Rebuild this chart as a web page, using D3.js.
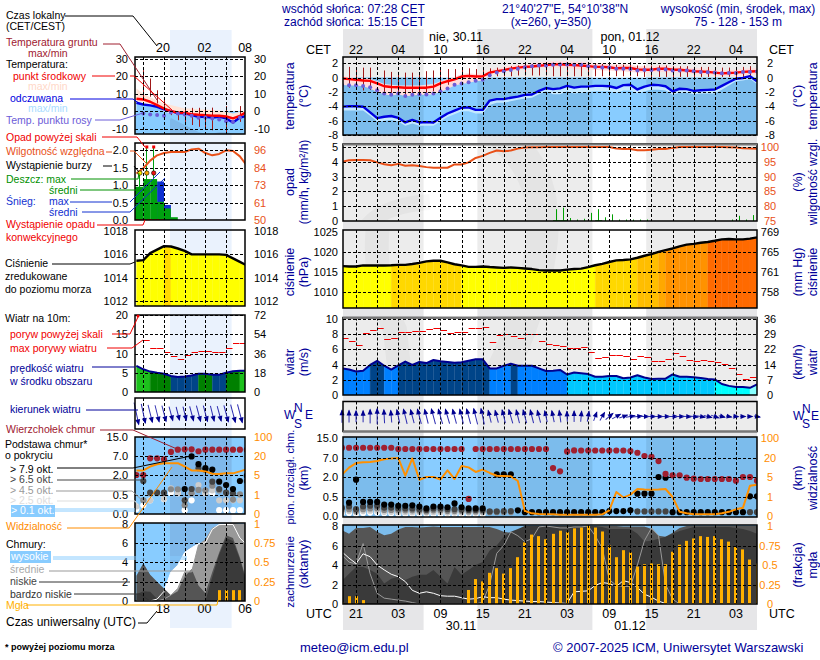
<!DOCTYPE html>
<html>
<head>
<meta charset="utf-8">
<script src="https://cdn.jsdelivr.net/npm/d3@7/dist/d3.min.js"></script>
<style>
  body { margin: 0; background: #fff; }
  text { font-family: "Liberation Sans", Arial, sans-serif; font-size: 12px; }
</style>
</head>
<body>
<div id="chart"></div>
<script>
/*
----------------------------------------
Main forecast data, one value per hour, starting 19 UTC
----------------------------------------
*/
const tempMid = [-0.1,-0.2,-0.3,-0.4,-0.45,-0.8,-1.2,-1.3,-1.35,-1.4,-1.4,-1.4,-1.4,-1.25,-0.8,-0.5,-0.25,0.15,0.25,0.15,0.2,0.7,0.9,1.05,1.25,1.4,1.5,1.55,1.65,1.75,1.85,1.85,1.8,1.75,1.7,1.6,1.5,1.5,1.45,1.3,1.35,1.35,1.15,1.1,1.1,1.25,1.25,1.1,1.1,1.0,0.9,0.85,0.8,0.7,0.6,0.65,0.7,0.8,0.85,0.9];
const tempMax = [0.2,0.1,0,-0.1,-0.2,-0.5,-0.9,-1,-1.1,-1.1,-1.1,-1.1,-1,-0.9,-0.5,-0.2,0.1,0.5,0.6,0.5,0.6,1.1,1.3,1.5,1.7,1.8,1.9,2,2.1,2.2,2.3,2.3,2.3,2.2,2.2,2.1,2,2,1.9,1.8,1.9,1.8,1.6,1.6,1.5,1.7,1.7,1.5,1.5,1.4,1.3,1.3,1.2,1.1,1,1.1,1.1,1.2,1.3,1.3];
const tempMin = [-1,-1.1,-1.1,-1.2,-1.5,-2,-2.3,-2.5,-2.3,-2.6,-2.5,-2.4,-2.4,-2.3,-2,-1.6,-1.1,-0.9,-0.7,-0.5,-0.4,0.3,0.6,0.8,1,1.1,1.2,1.3,1.4,1.4,1.4,1.4,1.3,1.2,1.2,1.1,1.1,1,1,0.9,0.9,0.8,0.7,0.7,0.7,0.8,0.8,0.7,0.7,0.6,0.5,0.4,0.4,0.3,0.2,0.2,0.2,0.3,0.4,0.4];
const feels = [-4.05,-4,-4,-4.05,-4.85,-5.65,-5.45,-5.35,-5.6,-6.25,-5.9,-6.25,-6.2,-6.25,-5.6,-5,-4.6,-4.2,-4.15,-4.5,-4.5,-3.2,-3,-3,-2.8,-2.65,-2.4,-2.35,-1.85,-1.45,-1.6,-1.5,-1.15,-1.4,-1.25,-1.25,-1.15,-1.15,-1.2,-1.45,-1.05,-1,-1.65,-1.25,-1,-1.05,-1.2,-1.9,-1.55,-1.6,-1.85,-1.75,-1.7,-1.65,-1.15,-0.65,-0.15,-0.05,0.2,-0.5];
const feelsMin = [-4.6,-4.6,-4.6,-4.6,-5.3,-6.1,-6,-5.9,-6.1,-6.7,-6.4,-6.7,-6.7,-6.7,-6.1,-5.5,-5.1,-4.7,-4.7,-5,-5,-3.8,-3.5,-3.5,-3.3,-3.1,-2.9,-2.8,-2.3,-1.9,-2.3,-2.3,-1.9,-2.2,-2.1,-2,-1.9,-1.9,-1.9,-2.1,-1.8,-1.8,-2.2,-1.9,-1.7,-1.7,-1.8,-2.4,-2.1,-2.1,-2.3,-2.2,-2.2,-2.2,-1.7,-1.1,-0.5,-0.4,-0.2,-0.9];
const dewPoint = [-1.05,-1.05,-1.05,-1.15,-1.35,-1.75,-2.2,-2.4,-2.2,-2.55,-2.4,-2.3,-2.35,-2.2,-1.9,-1.5,-1,-0.8,-0.65,-0.45,-0.3,0.35,0.7,0.9,1.05,1.25,1.45,1.6,1.7,1.7,1.8,1.85,1.85,1.8,1.8,1.6,1.5,1.4,1.4,1.25,1.25,1.2,1,1.05,1.05,1.15,1.15,1,1,1,0.9,0.8,0.75,0.7,0.6,0.65,0.65,0.8,0.8,0.85];
const groundMax = [null,1.5,1.4,1.4,1.4,null,1,0.8,0.8,0.7,0.7,0.7,0.9,1,1.1,1.2,1.2,1.3,1.3,1.2,1.2,1.3,1.4,1.5,1.6,1.7,1.8,1.9,2,2,2.1,2.1,2.1,2,2,2,1.9,1.9,1.8,1.8,1.8,1.8,1.7,1.7,1.7,1.7,1.7,1.6,1.6,1.6,1.5,1.5,1.5,1.4,1.4,1.4,1.5,1.5,1.6,1.5];
const groundMin = [null,-1.4,-1.7,-1.8,-1.7,null,-2.4,-2.4,-2.4,-2.4,-2.4,-2.4,-2.4,-1.9,-1.3,-1,-0.3,0,0,0,0,0.1,0.2,0.2,0.2,0.3,0.3,0.3,0.3,0.3,0.2,0.2,0.2,0.2,0.2,0.2,0.2,0.2,0.2,0.2,0.2,0.2,0.2,0.1,0.1,0.1,0.1,0.1,0.1,0.1,0.1,0.1,0.1,0.1,0.1,0.1,0.1,0.1,0.1,0.1];

const relHum = [95,95.55,95.65,95.65,95.55,94.8,94.2,93.8,94.3,93.65,93.8,93.55,93.2,93,93,93,94.1,94.1,94.8,96.3,97,98,98.8,98.55,98.8,99.45,99.8,99.9,99.9,100,100,100,100,100,100,100,100,100,100,99.5,99.3,99.3,98.9,98.9,99.1,99.3,99.3,99.7,100,100,100,100,100,100,100,99.9,99.8,99.6,99.5,99.4];
const rainMax = [0,0,0,0,0,0,0,0,0,0,0,0,0,0,0,0,0,0,0,0,0,0,0,0,0,0,0,0,0,0,0.8,0.9,0.2,0.1,0.15,0.55,0.8,0.25,0.45,0.1,0.1,0.1,0.1,0.1,0,0,0,0,0,0,0,0,0,0,0,0.1,0.35,0.1,0.4,0];
const rainMean = [0,0,0,0,0,0,0,0,0,0,0,0,0,0,0,0,0,0,0,0,0,0,0,0,0,0,0,0,0,0,0.05,0.05,0,0,0,0,0.05,0,0,0,0,0,0,0,0,0,0,0,0,0,0,0,0,0,0,0,0,0,0,0];

const pressure = [1016.5,1016.4,1016.4,1016.65,1016.65,1016.65,1016.65,1016.7,1016.8,1016.8,1017,1017.3,1017.65,1017.8,1017.8,1017.4,1016.95,1016.65,1016.3,1016.3,1016.4,1016.25,1016.15,1016.05,1016.15,1016.05,1015.9,1015.75,1015.5,1015.4,1015.4,1015.4,1015.6,1015.75,1015.85,1016.25,1016.7,1017.05,1017.5,1017.9,1018,1018.15,1018.55,1019.05,1019.45,1020,1020.45,1020.85,1021.35,1021.8,1022,1022.25,1022.45,1022.75,1023.1,1023.2,1023.1,1023.1,1023.3,1023.6];

const windSpeed = [3.5,3.35,3.1,3.2,3.95,4.5,3.85,3.35,3.9,4.4,3.95,4.35,4.2,4.6,4.45,4.35,4.25,4.3,4.5,4.7,4.7,3.5,3.5,3.85,4.1,3.85,3.85,3.85,3.5,3.15,3.2,3.3,2.7,2.95,2.85,2.75,2.4,2.4,2.5,2.5,2.2,2.3,2.6,2.3,2.1,2.15,2.15,2.7,2.4,2.4,2.35,2.25,2.1,2.05,1.45,1.2,1.05,1.05,0.95,1.4];
const windGust = [7.5,7.1,6.55,8.15,8.5,8.8,7.35,7.5,8.25,8.25,8.4,8.4,8.7,8.8,8.55,8.15,8.25,8.3,8.8,8.8,8.95,6.95,7.95,8.05,7.75,7.45,8,8,7.1,6.7,6.6,6.45,6.15,6.15,6.3,5.7,4.85,5.05,5.25,5.25,5.1,4.7,5.1,5,4.45,4.45,4.75,5.5,5.1,4.6,4.45,4.55,4.45,4.3,4.05,3.5,2.75,2.05,2.35,2.55];
const windDir = [0,0,0,0,0,0,-3,-5,-12,-14,-15,-15,-14,-15,-16,-16,-15,-14,-15,-14,-12,-14,-15,-14,-16,-14,-15,-14,-15,-13,-12,-8,-3,0,5,10,20,30,50,60,70,80,85,90,90,90,90,90,90,92,95,100,105,110,105,100,95,90,90,100];

const cloudTop = [11.1,11.1,11.1,11.1,11.1,11.1,11.1,11.1,10.6,10.6,10.6,10.6,10.6,10.6,10.6,10.6,10.6,10.6,0.45,10.6,10.6,10.6,10.6,10.6,10.6,10.6,10.6,10.6,10.6,10.6,4.35,3.5,9.65,10.05,10,10,10,10,10,10,10,9.8,9.1,7.8,7.5,6.2,2.8,2.45,2.45,1.95,1.875,1.85,1.85,1.85,1.85,1.85,1.725,2,2,1.725];
const base79 = [null,0.35,1.8,0.37,0.37,0.37,0.3,0.3,0.27,0.27,0.28,0.25,0.2,0.25,0.25,0.23,0.33,0.23,0.2,0.2,0.2,null,2.7,2.7,2.7,0.15,0.1,0.1,0.1,0.1,0.1,0.1,0.1,0.1,0.1,0.1,0.1,0.1,0.13,0.13,0.13,0.15,0.75,0.75,0.75,2,1.95,0.1,0.1,0.1,0.1,0.1,0.1,0.1,0.1,0.1,0.1,0.1,0.55,0.55];
const base65 = [0.22,0.25,0.18,0.25,0.27,0.27,0.22,0.22,0.2,0.2,0.2,0.18,0.16,0.2,0.2,0.18,0.18,0.17,0.16,0.16,0.16,0.12,0.12,0.13,0.13,null,null,null,null,null,null,null,null,null,null,null,null,null,null,null,null,null,0.12,0.12,0.12,0.12,0.12,null,null,null,null,null,null,null,null,null,null,null,0.1,0.1];
const base45 = [0.17,0.18,0.13,0.18,0.2,0.2,0.16,0.16,0.15,0.15,0.15,0.14,0.12,0.15,0.15,0.13,0.13,0.13,0.12,0.12,0.12,0.1,0.1,0.1,0.1,null,null,null,null,null,null,null,null,null,null,null,null,null,null,null,null,null,null,null,null,null,null,null,null,null,null,null,null,null,null,null,null,null,null,null];
const base25 = [0.12,0.13,0.1,0.13,0.14,0.14,0.11,0.11,0.1,0.1,0.1,0.1,0.09,0.1,0.1,0.09,0.09,0.09,0.09,0.09,0.09,null,null,null,null,null,null,null,null,null,null,null,null,null,null,null,null,null,null,null,null,null,null,null,null,null,null,null,null,null,null,null,null,null,null,null,null,null,null,null];
const base01 = [0.07,0.08,0.06,0.08,0.09,0.09,0.07,0.07,0.06,0.06,0.06,0.06,0.05,0.06,0.06,0.05,0.05,0.05,0.05,0.05,0.05,null,null,null,null,null,null,null,null,null,null,null,null,null,null,null,null,null,null,null,null,null,null,null,null,null,null,null,null,null,null,null,null,null,null,null,null,null,null,null];
const visibility = [6.85,12.4,16,16.6,16.8,17.6,19,19.7,20,6,19.7,4.45,5,5,4.5,10.3,4.6,13.7,12.6,9,10.8,8.2,6,5.8,5.5,4.2,0.26,0.14,0.1,0.09,0.09,0.07,0.07,0.07,0.07,0.07,0.07,0.09,0.3,2,0.97,1.47,2.6,2.5,2.45,2.5,2.6,1,0.22,0.14,0.09,0.09,0.09,0.09,0.14,0.22,0.35,0.43,3.25,3.45];

const cloudHigh = [5.35,4.7,4.15,5.15,4.85,4,3.5,3.05,2.8,2.3,1.4,1.1,1.25,1.1,0.85,0.8,0.8,0.65,0.5,0.55,0.75,0.65,0.65,0.5,0.4,0.35,0.3,0.25,0.25,0.2,0.15,0.1,0.05,1.25,1.3,1.35,1.9,2.2,2.1,1.8,2.4,2.2,1.7,1,0.7,0.3,0.05,0,0,0,0,0,0,0,0,0,0,0,0,0];
const cloudMid = [5,4.3,4.1,6.2,3.1,1.1,0.6,0.5,0.4,0.3,0.15,0,0,0,0,0,0,0,0,0,0.2,2,5.2,6,7.4,7,6.4,6.7,7.9,8,7.9,7.8,7.8,7.9,7.9,8,7,5.7,2.5,1.9,1.8,1.8,4,6.5,7.8,7,2,0.5,0,0,0,0,0,0,0,0,0,0,0,0];
const cloudLow = [7.55,7.2,7.8,7.8,7.9,7.4,7.05,7.2,7.65,7.9,7.9,7.85,7.9,7.95,7.9,7.9,7.9,7.9,7.9,7.9,7.9,7.9,7.7,7.4,7.3,7.6,8,8,8,8,8,8,8,8,8,8,8,8,8,8,7.95,7.95,7.95,7.95,7.7,7,6.9,7.3,7.8,8,8,8,8,8,8,8,8,8,8,8];
const cloudVeryLow = [2.4,3.1,3.8,3.8,3.5,3.1,2.1,2.6,2.8,2.45,2.8,3,3,3.5,2.8,2.1,3.8,3,3.5,4,4.3,5.5,6,6.9,7.4,7.7,8,8,8,8,8,8,8,8,8,8,8,7.9,7.7,7.7,7.7,7.7,7.2,6.4,6.5,6.7,6.9,7.2,7.5,7.7,7.9,7.9,7.9,7.9,7.9,7.9,7.8,7.7,7.5,7.2];
const fog = [0.02,0.1,0.1,0.05,0,0,0,0,0,0,0,0,0,0,0,0,0,0,0.18,0.32,0.29,0.4,0.46,0.39,0.46,0.6,0.79,0.89,0.87,0.83,0.9,0.94,0.92,0.97,0.98,1,0.98,0.93,0.75,0.6,0.69,0.66,0.48,0.51,0.52,0.51,0.51,0.67,0.76,0.81,0.84,0.87,0.86,0.87,0.83,0.8,0.73,0.7,0.57,0.52];

/*
----------------------------------------
Climatology side column data, one value per hour, starting 14 UTC
----------------------------------------
*/
const lTempMid = [7.1,6.7,5.4,3.5,1.5,0,-0.8,-1,-1.7,-2.1,-2.3,-2.7,-2.7,-3.1,-4.2,-2.7,-0.4];
const lTempMax = [13,10,8,6.3,4.4,3.5,2.5,1.5,1.5,1,1,0.6,0.2,-0.4,-1.3,-0.4,0.5];
const lTempMin = [5.6,5.2,4,2,0,-1.5,-2,-2.3,-3,-3.5,-3.6,-4,-4,-4.5,-5.5,-4,-2];
const lFeels = [4.8,3.8,3.3,2.5,1,0,-1.3,-1.3,-2.3,-3.3,-3.3,-3.7,-3.3,-4.2,-6.5,-3.7,-2.7];
const lFeelsMin = [-14,-14,-14,-14,-14,-4,-6,-8,-10,-12,-13,-13,-12,-12,-13,-10,-9];
const lDewPoint = [null,-1.3,-1.9,-2.3,-2.7,-0.8,-1.3,-1.9,-2.7,-3.8,-3.7,-4.2,-4.8,-5.8,-6.2,-3.7,null];
const lGroundMax = [null,23.6,18.8,12,7.3,0.5,0,1.5,1.9,1.9,2,2,null,2.9,null,2.9,null];
const lGroundMin = [null,6.3,8.3,4.4,0.5,-2.3,-5.2,-6.2,-8,-9,-10,-11,null,-12.9,null,-6.2,null];

const lRelHum = [80.6,84,89,92.5,94,94.7,94.7,94.7,96.4,96.9,94,92.5,93.4,95.8,95.3,91.8,85.9];
const lRainBar = [0.95,1.17,1.17,0.52,0.33,0.08,0,0,0,0,0,0,0,0,0,0,0];
const lSnowBar = [0,0,0,1.1,0.43,0,0,0,0,0,0,0,0,0,0,0,0];
const lRainStem = [1.35,2.1,2.1,0,0,0,0,0,0,0,0,0,0,0,0,0,0];
const lOverScale = [0,1,1,0,0,0,0,0,0,0,0,0,0,0,0,0,0];
const lStorm = ['#ffee00','#ffaa00','#ee1111'];
const lConvective = [1,1,1,1,0,0,0,0,0,0,0,0,0,0,0,0,0];

const lPressure = [1015.45,1015.5,1016.1,1016.4,1016.7,1016.67,1016.5,1016.3,1016,1016,1016,1016,1016,1015.95,1015.65,1015.35,1015.05];
const lWindSpeed = [6.8,5.9,5.3,5,4.75,4.15,3.9,4,4.3,4.75,4.75,4.5,4.5,5,5.4,5.55,5.55];
const lWindGust = [null,13.4,11.45,11.4,10.3,9.3,8.55,9.6,10.3,10.6,10.65,10.3,10.3,11.45,12.6,12.8,null];
const lWindDir = [168,168,166,166,165,165,166,166,165,165,165,166,165,165,165,165,165];

const lCloudTop = [2,2,6.4,6.4,6.15,8.7,9.65,9.8,9.8,9,9.65,9.65,9.65,9.65,9.65,9.65,9.65];
const lBase79 = [null,null,null,null,null,null,null,0.95,6.9,4.85,3.8,3.4,1.5,1.25,0.95,1.55,1.95];
const lBase65 = [null,1.55,0.68,0.68,0.68,null,null,0.36,0.95,3.8,3.4,1.5,0.95,0.68,0.63,null,1.55];
const lBase45 = [null,0.36,0.63,0.63,0.63,0.93,0.93,0.23,0.63,0.88,0.85,1.2,0.85,0.63,0.38,0.55,null];
const lBase25 = [0.2,null,0.36,null,0.4,1,0.63,0.36,0.63,1.25,0.63,0.85,0.36,0.36,0.36,0.36,null];
const lBase01 = [0.13,0.23,0.36,null,0.39,0.65,0.63,0.1,0.36,null,0.65,0.63,0.1,0.1,0.1,0.1,null];
const lVisibility = [8.6,8.6,11.7,13.5,14.3,14.3,14.3,11.7,8.6,8.6,7.85,6,5.8,6.3,6.3,7.85,9.65];

const lCloudHigh = [0,0,0,0.2,1,3,3.7,5,5.5,5.9,6,7.4,7.9,7.9,7.9,6.5,5.8];
const lCloudMid = [0,0,0,0,0.2,0.6,1.3,3,3,5.8,6.3,7.5,7.8,8,8,7.9,7.9];
const lCloudLow = [2.6,3.9,2.7,2,1.3,0.6,1,2.5,3.3,1.6,0.8,3,5,6.8,6.5,4.5,2];
const lCloudVeryLow = [0.7,1,0.95,0.2,0,0,0,0,0,0,0,2.5,4.8,6.5,6.2,4.3,1.8];
const lFog = [0,0,0,0,0,0,0,0,0,0,0,0,0.14,0.14,0.14,0.14,0];

/*
----------------------------------------
Tick labels and night spans
----------------------------------------
*/
const mainGridHours = [2,5,8,11,14,17,20,23,26,29,32,35,38,41,44,47,50,53,56];
const mainLabelHours = [2,8,14,20,26,32,38,44,50,56];
const localLabels = ['22','04','10','16','22','04','10','16','22','04'];
const utcLabels = ['21','03','09','15','21','03','09','15','21','03'];
const sideGridHours = [1,4,7,10,13];
const sideLabelHours = [4,10,15.9];
const sideLocalLabels = ['20','02','08'];
const sideUtcLabels = ['18','00','06'];
const mainNight = [[0,11.6],[19.25,35.6],[43.25,59]];
const sideNight = [[4.87,13.8]];

const windColor = d3.scaleThreshold()
  .domain([1,2.07,3,3.9,4.72,5.5])
  .range(['#88ffff','#00ffff','#00c8ff','#0080ff','#004488','#008000','#1cc01c']);
const pressureColor = d3.scaleThreshold()
  .domain([1016.68,1018.2,1019.9,1020.3,1022.35])
  .range(['#ffff00','#ffd800','#ffbe00','#ffa800','#ff9200','#ff6a00']);

const NAVY = '#000099';
const ORANGE = '#ff8c00';
const RH_RED = '#e85018';

const svg = d3.select('#chart').append('svg').attr('width', 820).attr('height', 660);

const xMain = d3.scaleLinear().domain([0,59]).range([342,757]);
const xSide = d3.scaleLinear().domain([0,16]).range([136.4,246.8]);

const mainCol = { x: xMain, x0: 343, x1: 757, night: mainNight, grid: mainGridHours, pre: 'm' };
const sideCol = { x: xSide, x0: 135, x1: 245, night: sideNight, grid: sideGridHours, pre: 's' };

// snap thin marks to the pixel grid so they stay sharp
const crisp = v => Math.round(v) + 0.5;

/*
----------------------------------------
Page bands behind the panels
----------------------------------------
*/
mainNight.forEach(([a,b]) => {
  svg.append('rect').attr('x', Math.max(343, xMain(a))).attr('y', 29)
    .attr('width', xMain(b) - Math.max(343, xMain(a))).attr('height', 601).attr('fill', '#e6e6e8');
});
sideNight.forEach(([a,b]) => {
  svg.append('rect').attr('x', xSide(a)).attr('y', 30)
    .attr('width', xSide(b) - xSide(a)).attr('height', 598).attr('fill', '#eaf2fd');
});

/*
----------------------------------------
Panel helpers
----------------------------------------
*/
const panel = (col, name, top, bottom) => {
  const id = col.pre + name;
  svg.append('clipPath').attr('id', id).append('rect')
    .attr('x', col.x0).attr('y', top).attr('width', col.x1 - col.x0).attr('height', bottom - top);
  const g = svg.append('g').attr('clip-path', `url(#${id})`);
  return { col, g, top, bottom };
};

const shade = (p, dayColor, nightColor, top = p.top) => {
  p.g.append('rect').attr('x', p.col.x0).attr('y', top)
    .attr('width', p.col.x1 - p.col.x0).attr('height', p.bottom - top).attr('fill', dayColor);
  p.col.night.forEach(([a,b]) => {
    p.g.append('rect').attr('x', p.col.x(a)).attr('y', top)
      .attr('width', p.col.x(b) - p.col.x(a)).attr('height', p.bottom - top).attr('fill', nightColor);
  });
};

const paper = (p) => {
  if (p.col.pre === 'm') shade(p, '#ffffff', '#ececec');
  else shade(p, '#ffffff', '#eaf2fd');
};

const sky = (p, top = p.top) => {
  if (p.col.pre === 'm') shade(p, '#88ccff', '#7cbcec', top);
  else shade(p, '#88ccff', '#7fb8ea', top);
};

// faint swirl of the ICM logo, only seen through the main panels
const watermark = (p) => {
  const swirl = p.g.append('g').attr('fill', 'none').attr('stroke', '#000').attr('stroke-opacity', 0.03);
  swirl.append('path').attr('d', 'M500 135 Q548 170 542 240 Q535 310 490 395').attr('stroke-width', 32);
  swirl.append('path').attr('d', 'M378 225 Q372 280 395 330 L402 395').attr('stroke-width', 24);
  swirl.append('path').attr('d', 'M368 225 Q385 205 430 202').attr('stroke-width', 16);
};

const lineOf = (x, y, values) => d3.line()
  .defined(i => values[i] !== null)
  .x(i => x(i)).y(i => y(values[i]));

const drawLine = (p, y, values, color, width) => {
  p.g.append('path').datum(d3.range(values.length))
    .attr('d', lineOf(p.col.x, y, values))
    .attr('fill', 'none').attr('stroke', color).attr('stroke-width', width).attr('stroke-linejoin', 'round');
};

const drawBetween = (p, y, upper, lower, color) => {
  p.g.append('path').datum(d3.range(upper.length))
    .attr('d', d3.area().x(i => p.col.x(i)).y0(i => y(lower[i])).y1(i => y(upper[i])))
    .attr('fill', color);
};

const drawToBase = (p, y, values, color) => {
  p.g.append('path').datum(d3.range(values.length))
    .attr('d', d3.area().x(i => p.col.x(i)).y0(p.bottom).y1(i => y(values[i])))
    .attr('fill', color);
};

// one trapezoid per hour, coloured from its left hand value
const drawCells = (p, y, values, color) => {
  p.g.selectAll(null).data(d3.range(values.length - 1)).enter().append('path')
    .attr('d', i => d3.area().x(k => p.col.x(k)).y0(p.bottom).y1(k => y(values[k]))([i, i + 1]))
    .attr('fill', i => color(values[i]))
    .attr('stroke', i => color(values[i])).attr('stroke-width', 0.3);
};

const drawDots = (p, y, values, color, r) => {
  p.g.selectAll(null).data(d3.range(values.length).filter(i => values[i] !== null)).enter().append('circle')
    .attr('cx', i => p.col.x(i)).attr('cy', i => y(values[i])).attr('r', r).attr('fill', color);
};

const drawGrid = (p, y, yTicks) => {
  const grid = svg.append('g').attr('fill', 'none').attr('stroke', '#000').attr('stroke-dasharray', '3,2');
  p.col.grid.forEach(h => {
    grid.append('line').attr('x1', crisp(p.col.x(h))).attr('x2', crisp(p.col.x(h))).attr('y1', p.top).attr('y2', p.bottom);
  });
  yTicks.forEach(v => {
    grid.append('line').attr('x1', p.col.x0).attr('x2', p.col.x1).attr('y1', crisp(y(v))).attr('y2', crisp(y(v)));
  });
};

const drawFrame = (p) => {
  svg.append('rect').attr('x', p.col.x0).attr('y', p.top)
    .attr('width', p.col.x1 - p.col.x0).attr('height', p.bottom - p.top)
    .attr('fill', 'none').attr('stroke', '#000').attr('stroke-width', 1.5);
};

const greyEdge = (p, yy) => {
  svg.append('line').attr('x1', p.col.x0).attr('x2', p.col.x1).attr('y1', yy).attr('y2', yy)
    .attr('stroke', '#777').attr('stroke-width', 2);
};

const axisLeft = (p, scale, values, format, color = '#000') => {
  const anchorX = p.col.pre === 'm' ? 338 : 128;
  const axis = svg.append('g').attr('transform', `translate(${anchorX + 3},0)`)
    .call(d3.axisLeft(scale).tickValues(values).tickSize(0).tickPadding(3).tickFormat(format));
  axis.select('.domain').remove();
  axis.selectAll('text').attr('fill', color).style('font-size', '11px').style('font-family', '"Liberation Sans"');
};

const axisRight = (p, scale, values, format, color = '#000') => {
  const axis = svg.append('g').attr('transform', `translate(${p.col.x1},0)`)
    .call(d3.axisRight(scale).tickValues(values).tickSize(0).tickPadding(3).tickFormat(format));
  axis.select('.domain').remove();
  axis.selectAll('text').attr('fill', color).style('font-size', '11px').style('font-family', '"Liberation Sans"');
  if (p.col.pre === 'm') axis.selectAll('text').attr('text-anchor', 'middle').attr('x', 13);
  else axis.selectAll('text').attr('x', 9);
};

const plain = d => d;

/*
----------------------------------------
Temperature panels
----------------------------------------
*/
const drawTemperature = (col, top, bottom, domain, range, ticks, s) => {
  const p = panel(col, 'temp', top, bottom);
  const y = d3.scaleLinear().domain(domain).range(range);
  paper(p);
  sky(p, y(0));
  drawBetween(p, y, s.feels, s.feelsMin, s.paleBlue);
  drawBetween(p, y, s.max, s.min, s.pink);
  d3.range(s.groundMax.length).filter(i => s.groundMax[i] !== null).forEach(i => {
    p.g.append('line').attr('x1', crisp(col.x(i))).attr('x2', crisp(col.x(i)))
      .attr('y1', y(s.groundMax[i])).attr('y2', y(s.groundMin[i]))
      .attr('stroke', '#a01818').attr('stroke-width', 1);
  });
  drawLine(p, y, s.feels, '#0000e0', 2.4);
  drawLine(p, y, s.mid, '#ff0000', 2.4);
  drawDots(p, y, s.dew, '#6c5cd8', 2);
  drawGrid(p, y, ticks);
  drawFrame(p);
  axisLeft(p, y, ticks, plain);
  axisRight(p, y, ticks, plain);
};

drawTemperature(mainCol, 57, 135, [-8,2], [135,63.3], [2,0,-2,-4,-6,-8], {
  mid: tempMid, max: tempMax, min: tempMin, feels, feelsMin, dew: dewPoint,
  groundMax, groundMin, pink: '#ffdcdc', paleBlue: '#c4e8ff'
});
drawTemperature(sideCol, 57, 134, [-10,30], [128.5,59], [30,20,10,0,-10], {
  mid: lTempMid, max: lTempMax, min: lTempMin, feels: lFeels, feelsMin: lFeelsMin, dew: lDewPoint,
  groundMax: lGroundMax, groundMin: lGroundMin, pink: '#ffe4d8', paleBlue: '#88ccff'
});

/*
----------------------------------------
Precipitation and relative humidity
----------------------------------------
*/
{
  const p = panel(mainCol, 'rain', 144, 221);
  const y = d3.scaleLinear().domain([0,5]).range([221,147]);
  const yRh = d3.scaleLinear().domain([75,100]).range([221,147]);
  paper(p);
  watermark(p);
  d3.range(rainMax.length).filter(i => rainMax[i] > 0).forEach(i => {
    p.g.append('rect').attr('x', Math.round(xMain(i) + 3)).attr('y', y(rainMax[i]))
      .attr('width', 1).attr('height', y(0) - y(rainMax[i])).attr('fill', '#00a000');
  });
  d3.range(rainMean.length).filter(i => rainMean[i] > 0).forEach(i => {
    p.g.append('rect').attr('x', xMain(i)).attr('y', y(rainMean[i]))
      .attr('width', 7).attr('height', y(0) - y(rainMean[i])).attr('fill', '#00a000');
  });
  drawLine(p, yRh, relHum, RH_RED, 2);
  drawGrid(p, y, [5,4,3,2,1]);
  drawFrame(p);
  greyEdge(p, 144.5);
  axisLeft(p, y, [5,4,3,2,1,0], plain);
  axisRight(p, yRh, [100,95,90,85,80,75], plain, RH_RED);
}
{
  const p = panel(sideCol, 'rain', 143, 220);
  const y = d3.scaleLinear().domain([0,2]).range([220,150]);
  const yRh = d3.scaleLinear().domain([50,96]).range([220,150]);
  paper(p);
  lSnowBar.forEach((v, i) => {
    if (v > 0) p.g.append('rect').attr('x', xSide(i)).attr('y', y(v))
      .attr('width', xSide(1) - xSide(0)).attr('height', y(0) - y(v)).attr('fill', '#1030d0');
  });
  lRainBar.forEach((v, i) => {
    if (v > 0) p.g.append('rect').attr('x', xSide(i) - (i === 0 ? 2 : 0)).attr('y', y(v))
      .attr('width', xSide(1) - xSide(0) + (i === 0 ? 2 : 0)).attr('height', y(0) - y(v)).attr('fill', '#00a010');
  });
  lRainStem.forEach((v, i) => {
    if (v > 0) p.g.append('line').attr('x1', crisp(xSide(i) + 3)).attr('x2', crisp(xSide(i) + 3))
      .attr('y1', y(v)).attr('y2', y(0)).attr('stroke', '#00a010');
  });
  lConvective.forEach((v, i) => {
    if (v > 0) p.g.append('line').attr('x1', xSide(i)).attr('x2', xSide(i + 1)).attr('y1', 219.5).attr('y2', 219.5)
      .attr('stroke', '#f00000').attr('stroke-dasharray', '2,2');
  });
  drawLine(p, yRh, lRelHum, RH_RED, 2);
  drawGrid(p, y, [2,1.5,1,0.5]);
  drawFrame(p);
  lOverScale.forEach((v, i) => {
    if (v > 0) svg.append('rect').attr('x', xSide(i) + 2).attr('y', 145.5).attr('width', 3).attr('height', 3).attr('fill', '#f00000');
  });
  lStorm.forEach((c, i) => {
    svg.append('circle').attr('cx', xSide(i) + 3.5).attr('cy', 173).attr('r', 2.2)
      .attr('fill', c).attr('stroke', '#000').attr('stroke-width', 0.6);
  });
  axisLeft(p, y, [2,1.5,1,0.5,0], d3.format('.1f'));
  axisRight(p, yRh, [96,84,73,61,50], plain, RH_RED);
}

/*
----------------------------------------
Sea level pressure
----------------------------------------
*/
{
  const p = panel(mainCol, 'pres', 230, 308);
  const y = d3.scaleLinear().domain([1010,1025]).range([292.3,231.7]);
  paper(p);
  watermark(p);
  drawCells(p, y, pressure, pressureColor);
  drawLine(p, y, pressure, '#000', 2.4);
  drawGrid(p, y, [1020,1015,1010]);
  drawFrame(p);
  axisLeft(p, y, [1025,1020,1015,1010], plain);
  axisRight(p, y, [1025,1020,1015,1010], d => Math.round(d * 0.75006));
}
{
  const p = panel(sideCol, 'pres', 230, 306);
  const y = d3.scaleLinear().domain([1012,1018]).range([301,231]);
  paper(p);
  drawCells(p, y, lPressure, pressureColor);
  drawLine(p, y, lPressure, '#000', 2.4);
  drawGrid(p, y, [1016,1014,1012]);
  drawFrame(p);
  axisLeft(p, y, [1018,1016,1014,1012], plain);
  axisRight(p, y, [1018,1016,1014,1012], plain);
}

/*
----------------------------------------
Wind speed, gusts and direction
----------------------------------------
*/
const drawWind = (col, top, bottom, y, ticks, speed, gust) => {
  const p = panel(col, 'wind', top, bottom);
  paper(p);
  if (col.pre === 'm') watermark(p);
  drawCells(p, y, speed, windColor);
  drawLine(p, y, speed, '#000090', 2);
  gust.forEach((v, i) => {
    if (v !== null) p.g.append('line').attr('x1', col.x(i)).attr('x2', col.x(i + 1) - 0.5)
      .attr('y1', crisp(y(v))).attr('y2', crisp(y(v))).attr('stroke', '#f00000').attr('stroke-width', 1);
  });
  drawGrid(p, y, ticks.filter(v => v > 0));
  drawFrame(p);
  axisLeft(p, y, ticks, plain);
  axisRight(p, y, ticks, d => Math.round(d * 3.6));
  return p;
};

const pWind = drawWind(mainCol, 317.5, 395, d3.scaleLinear().domain([0,10]).range([395,319]), [10,8,6,4,2,0], windSpeed, windGust);
greyEdge(pWind, 318);
drawWind(sideCol, 315, 392, d3.scaleLinear().domain([0,20]).range([392,315]), [20,15,10,5,0], lWindSpeed, lWindGust);
svg.append('circle').attr('cx', 138).attr('cy', 316).attr('r', 1.5).attr('fill', '#f00000');

const drawArrows = (col, top, bottom, dir, speed, count) => {
  const p = panel(col, 'dir', top, bottom);
  paper(p);
  if (col.pre === 'm') watermark(p);
  drawGrid(p, d3.scaleLinear(), []);
  const mid = (top + bottom) / 2;
  const arrows = svg.append('g');
  d3.range(count).forEach(i => {
    const len = 2 + speed[i] * 3;
    const a = arrows.append('g').attr('transform', `translate(${col.x(i)},${mid}) rotate(${dir[i]})`);
    a.append('line').attr('x1', 0).attr('x2', 0).attr('y1', len / 2).attr('y2', -len / 2)
      .attr('stroke', '#2c2cb0').attr('stroke-width', 1);
    a.append('path').attr('d', `M0,${-len / 2 - 1}L-2.5,${-len / 2 + 5}L2.5,${-len / 2 + 5}Z`).attr('fill', '#000090');
  });
  drawFrame(p);
  return p;
};
greyEdge(drawArrows(mainCol, 401.5, 431.5, windDir, windSpeed, 60), 431.5);
drawArrows(sideCol, 398, 429, lWindDir, lWindSpeed, 16);

/*
----------------------------------------
Cloud base/top and visibility
----------------------------------------
*/
const drawBases = (col, top, bottom, y, yVis, s) => {
  const p = panel(col, 'base', top, bottom);
  sky(p);
  drawDots(p, y, s.b01, '#ffffff', 3.1);
  drawDots(p, y, s.b25, '#cccccc', 3.1);
  drawDots(p, y, s.b45, '#888888', 3.1);
  drawDots(p, y, s.b65, '#444444', 3.1);
  drawDots(p, y, s.b79, '#000000', 3.1);
  drawDots(p, y, s.top, '#a02030', 3.1);
  drawLine(p, yVis, s.vis, '#ff9000', 2);
  drawGrid(p, y, [7,2,0.5]);
  drawFrame(p);
  axisLeft(p, y, [15,7,2,0.5,0], d3.format('.1f'));
  axisRight(p, yVis, [100,20,5,1,0], plain, ORANGE);
};

drawBases(mainCol, 437, 517,
  d3.scaleLinear().domain([0,0.5,2,7,15]).range([516,497,477,458,438]),
  d3.scaleLinear().domain([0,1,5,20,100]).range([516,497,477,458,438]),
  { b01: base01, b25: base25, b45: base45, b65: base65, b79: base79, top: cloudTop, vis: visibility });
drawBases(sideCol, 437, 514,
  d3.scaleLinear().domain([0,0.5,2,7,15]).range([514,495,475,456,437]),
  d3.scaleLinear().domain([0,1,5,20,100]).range([514,495,475,456,437]),
  { b01: lBase01, b25: lBase25, b45: lBase45, b65: lBase65, b79: lBase79, top: lCloudTop, vis: lVisibility });

/*
----------------------------------------
Cloud cover and fog
----------------------------------------
*/
const drawCover = (col, top, bottom, y, yFog, s) => {
  const p = panel(col, 'cover', top, bottom);
  sky(p);
  drawToBase(p, y, s.high, '#ffffff');
  drawToBase(p, y, s.mid, '#999999');
  drawToBase(p, y, s.low, '#555555');
  drawToBase(p, y, s.veryLow, '#3a3a3a');
  drawLine(p, y, s.mid, '#999999', 1);
  drawLine(p, y, s.high, '#ffffff', 1);
  s.fog.forEach((v, i) => {
    if (v > 0) p.g.append('rect').attr('x', Math.round(col.x(i) - 1.5)).attr('y', yFog(v))
      .attr('width', 3).attr('height', yFog(0) - yFog(v)).attr('fill', '#ffb000');
  });
  drawGrid(p, y, [6,4,2]);
  drawFrame(p);
  axisLeft(p, y, [8,6,4,2,0], plain);
  axisRight(p, yFog, [1,0.75,0.5,0.25,0], plain, ORANGE);
};

drawCover(mainCol, 525, 604,
  d3.scaleLinear().domain([0,8]).range([604,526]),
  d3.scaleLinear().domain([0,1]).range([604,526]),
  { high: cloudHigh, mid: cloudMid, low: cloudLow, veryLow: cloudVeryLow, fog });
drawCover(sideCol, 523, 601,
  d3.scaleLinear().domain([0,8]).range([601,523.5]),
  d3.scaleLinear().domain([0,1]).range([601,523.5]),
  { high: lCloudHigh, mid: lCloudMid, low: lCloudLow, veryLow: lCloudVeryLow, fog: lFog });

/*
----------------------------------------
Time labels above and below the columns
----------------------------------------
*/
const label = (txt, x, y, color = '#000', anchor = 'start', size = 12) => {
  return svg.append('text').attr('x', x).attr('y', y).attr('fill', color)
    .attr('text-anchor', anchor).style('font-size', size + 'px').text(txt);
};

mainLabelHours.forEach((h, i) => {
  label(localLabels[i], xMain(h), 54, '#000', 'middle', 12.5);
  label(utcLabels[i], xMain(h), 618, '#000', 'middle', 12.5);
});
sideLabelHours.forEach((h, i) => {
  label(sideLocalLabels[i], xSide(h) - 1, 52, '#000', 'middle', 12.5);
  label(sideUtcLabels[i], xSide(h) - 1, 613, '#000', 'middle', 12.5);
});
label('CET', 306, 54, '#000', 'start', 12.5);
label('CET', 769, 54, '#000', 'start', 12.5);
label('UTC', 306, 618, '#000', 'start', 12.5);
label('UTC', 769, 618, '#000', 'start', 12.5);
label('nie, 30.11', 456, 41, '#000', 'middle', 12.5);
label('pon, 01.12', 630, 41, '#000', 'middle', 12.5);
label('30.11', 461, 630, '#000', 'middle', 12.5);
label('01.12', 630, 630, '#000', 'middle', 12.5);

// header and footer
label('wschód słońca: 07:28 CET', 282, 13, NAVY);
label('zachód słońca: 15:15 CET', 284, 26, NAVY);
label('21°40\'27"E, 54°10\'38"N', 565, 13, NAVY, 'middle');
label('(x=260, y=350)', 551, 26, NAVY, 'middle');
label('wysokość (min, środek, max)', 738, 13, NAVY, 'middle');
label('75 - 128 - 153 m', 738, 26, NAVY, 'middle');
label('meteo@icm.edu.pl', 300, 652, NAVY, 'start', 13);
label('© 2007-2025 ICM, Uniwersytet Warszawski', 553, 652, NAVY, 'start', 13);
label('* powyżej poziomu morza', 5, 650, '#000', 'start', 9).style('font-weight', 'bold');

/*
----------------------------------------
Rotated axis titles
----------------------------------------
*/
const vtext = (txt, x, y, size = 12.5) => {
  svg.append('text').attr('transform', `translate(${x},${y}) rotate(-90)`).attr('fill', NAVY)
    .attr('text-anchor', 'middle').style('font-size', size + 'px').text(txt);
};
vtext('temperatura', 294, 96);
vtext('(°C)', 308, 96);
vtext('opad', 294, 182);
vtext('(mm/h, kg/m²/h)', 308, 182, 12);
vtext('ciśnienie', 294, 272);
vtext('(hPa)', 308, 272);
vtext('wiatr', 294, 362);
vtext('(m/s)', 308, 362);
vtext('pion. rozciągł. chm.', 294, 477, 11);
vtext('(km)', 308, 478);
vtext('zachmurzenie', 294, 572, 11.5);
vtext('(oktanty)', 308, 564);
vtext('(°C)', 802, 96);
vtext('temperatura', 817, 96);
vtext('(%)', 802, 182);
vtext('wilgotność wzgl.', 817, 182, 12);
vtext('(mm Hg)', 802, 272);
vtext('ciśnienie', 817, 272);
vtext('(km/h)', 802, 362);
vtext('wiatr', 817, 362);
vtext('(km)', 802, 478);
vtext('widzialność', 817, 478);
vtext('(frakcja)', 802, 565);
vtext('mgła', 817, 565);

// compass letters next to the direction strip
[['W',284,419],['N',294,412],['E',305,419],['S',294,428],['W',793,420],['N',802,413],['E',811,420],['S',802,428]].forEach(([t,x,y]) => {
  label(t, x, y, NAVY, 'start', 12);
});

/*
----------------------------------------
Legend on the far left with its leader lines
----------------------------------------
*/
const BROWN = '#a02030';
const legendTexts = [
  ['Czas lokalny',6,19,'#000'], ['(CET/CEST)',6,30,'#000'],
  ['Temperatura gruntu',6,46,BROWN], ['max/min',28,57,BROWN],
  ['Temperatura:',6,68,'#000'], ['punkt środkowy',13,80,'#f00000'],
  ['max/min',28,90,'#ffd8c8'], ['odczuwana',10,102,'#0000e0'],
  ['max/min',28,112,'#a8dcff'], ['Temp. punktu rosy',6,124,'#6c5cd8'],
  ['Opad powyżej skali',6,141,'#f00000'], ['Wilgotność względna',6,155,RH_RED],
  ['Wystąpienie burzy',6,169,'#000'], ['Deszcz: max',6,183,'#009000'],
  ['średni',49,194,'#009000'], ['Śnieg:',6,205,'#1030d0'],
  ['max',49,205,'#1030d0'], ['średni',49,216,'#1030d0'],
  ['Wystąpienie opadu',6,228,'#f00000'], ['konwekcyjnego',6,241,'#f00000'],
  ['Ciśnienie',5,267,'#000'], ['zredukowane',5,280,'#000'], ['do poziomu morza',5,293,'#000'],
  ['Wiatr na 10m:',5,322,'#000'], ['poryw powyżej skali',10,338,'#f00000'],
  ['max porywy wiatru',10,352,'#f00000'], ['prędkość wiatru',10,372,NAVY],
  ['w środku obszaru',10,385,NAVY], ['kierunek wiatru',10,413,NAVY],
  ['Wierzchołek chmur',6,433,BROWN], ['Podstawa chmur*',5,448,'#000'], ['o pokryciu',5,459,'#000'],
  ['> 7.9 okt.',10,473,'#000'], ['> 6.5 okt.',10,483,'#444'], ['> 4.5 okt.',10,494,'#999'],
  ['> 2.5 okt.',10,504,'#ddd'],
  ['Widzialność',6,530,ORANGE], ['Chmury:',6,548,'#000'],
  ['średnie',10,573,'#aaa'], ['niskie',10,585,'#444'], ['bardzo niskie',10,598,'#333'],
  ['Mgła',6,609,'#ffb000']
];
const leaders = [
  [[[65,16],[133,16],[157,46]],'#000'],
  [[[103,44],[120,44],[157,100]],BROWN],
  [[[92,76],[115,76]],'#f00000'], [[[130,76],[134,76],[172,110]],'#f00000'],
  [[[70,99],[133,99],[140,104]],'#0000e0'],
  [[[95,120],[120,120],[143,113]],'#6c5cd8'],
  [[[102,137],[137,137],[145,147]],'#f00000'],
  [[[106,152],[112,152]],RH_RED], [[[130,151],[134,151],[146,163]],RH_RED],
  [[[103,166],[112,166]],'#000'], [[[134,166],[139,172]],'#000'],
  [[[71,179],[138,179],[139,173]],'#009000'],
  [[[80,190],[146,190]],'#009000'],
  [[[70,202],[112,202]],'#1030d0'], [[[130,202],[160,172]],'#1030d0'],
  [[[82,212],[130,212],[165,178]],'#1030d0'],
  [[[97,225],[143,225],[145,220]],'#f00000'],
  [[[52,264],[130,264],[135,262]],'#000'],
  [[[112,334],[130,334],[138,317]],'#f00000'],
  [[[107,348],[132,348],[143,340]],'#f00000'],
  [[[92,367],[135,367]],NAVY],
  [[[86,410],[138,410]],NAVY],
  [[[100,430],[133,430],[177,449]],BROWN],
  [[[57,468],[133,468],[191,456]],'#000'],
  [[[57,480],[143,480]],'#444'],
  [[[56,491],[132,491],[143,501]],'#999'],
  [[[57,501],[135,501],[138,505]],'#ddd'],
  [[[55,509],[135,509]],'#88ccff'], [[[55,511],[135,511]],'#88ccff'],
  [[[67,528],[129,528],[172,467]],ORANGE],
  [[[53,557],[187,557]],'#88ccff'], [[[53,559],[187,559]],'#88ccff'],
  [[[49,571],[193,571]],'#999'],
  [[[39,582],[130,582]],'#333'],
  [[[74,594],[140,594],[150,601]],'#333'],
  [[[26,605],[217,605],[218,600]],'#ffb000'],
  [[[138,623],[147,623],[157,611]],'#000']
];
leaders.forEach(([pts, color]) => {
  svg.append('path').attr('d', d3.line()(pts)).attr('fill', 'none').attr('stroke', color).attr('stroke-width', 1);
});
legendTexts.forEach(([t,x,y,c]) => label(t, x, y, c, 'start', 10.5));
label('Czas uniwersalny (UTC)', 6, 626, '#000', 'start', 12);

// two legend entries sit on a blue chip
[[11,505,44,12,'> 0.1 okt.',11,514],[10,551,41,12,'wysokie',11,560]].forEach(([x,y,w,h,t,tx,ty]) => {
  svg.append('rect').attr('x', x).attr('y', y).attr('width', w).attr('height', h).attr('fill', '#88ccff');
  label(t, tx, ty, '#fff', 'start', 10.5);
});
</script>
</body>
</html>
